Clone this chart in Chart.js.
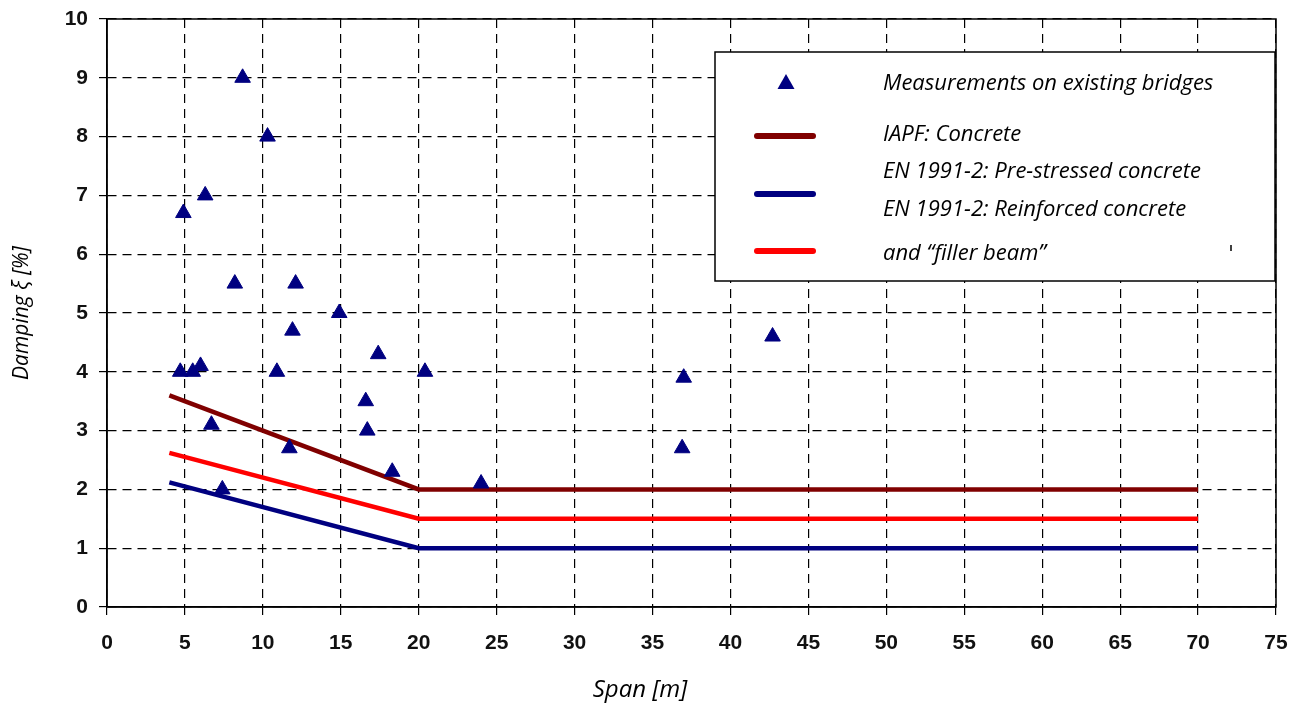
<!DOCTYPE html>
<html>
<head>
<meta charset="utf-8">
<script src="https://cdn.jsdelivr.net/npm/chart.js@4"></script>
<style>
  html, body { margin: 0; padding: 0; background: #fff; }
</style>
</head>
<body>
<canvas id="dampingChart" width="1306" height="706"></canvas>
<script>
// Measured damping on existing bridges (span in m, damping in %)
const spanMeasured = [4.7, 5.5, 6.0, 4.9, 6.3, 8.7, 10.3, 8.2, 12.1, 11.9, 14.9, 10.9,
  17.4, 20.4, 6.7, 11.7, 16.6, 16.7, 18.3, 7.4, 24.0, 37.0, 36.9, 42.7];
const dampingMeasured = [4.0, 4.0, 4.1, 6.7, 7.0, 9.0, 8.0, 5.5, 5.5, 4.7, 5.0, 4.0,
  4.3, 4.0, 3.1, 2.7, 3.5, 3.0, 2.3, 2.0, 2.1, 3.9, 2.7, 4.6];

// Design curves
const curveSpans = [4, 20, 70];
const iapfConcrete = [3.6, 2.0, 2.0];
const enPrestressed = [2.12, 1.0, 1.0];
const enReinforced = [2.62, 1.5, 1.5];

const legendLabels = [
  'Measurements on existing bridges',
  'IAPF: Concrete',
  'EN 1991-2: Pre-stressed concrete',
  'EN 1991-2: Reinforced concrete',
  'and \u201cfiller beam\u201d'
];

const toPoints = (xs, ys) => xs.map((x, i) => ({ x: x, y: ys[i] }));

const NAVY = '#000080';
const MAROON = '#800000';
const RED = '#ff0000';
const textFont = '"Open Sans"';

// frame, legend box and x title
const extras = {
  id: 'extras',
  afterDraw(chart) {
    const ctx = chart.ctx;
    const a = chart.chartArea;
    ctx.save();
    ctx.strokeStyle = '#000';
    ctx.lineWidth = 1.5;
    ctx.strokeRect(a.left, a.top, a.right - a.left, a.bottom - a.top);

    // legend
    ctx.fillStyle = '#fff';
    ctx.fillRect(715, 52, 560, 229);
    ctx.strokeRect(715, 52, 560, 229);

    ctx.fillStyle = NAVY;
    ctx.beginPath();
    ctx.moveTo(786, 74); ctx.lineTo(794.5, 89); ctx.lineTo(777.5, 89); ctx.closePath();
    ctx.fill();

    ctx.lineCap = 'round';
    ctx.lineWidth = 6;
    [[MAROON, 136], [NAVY, 194], [RED, 251]].forEach(([c, y]) => {
      ctx.strokeStyle = c;
      ctx.beginPath(); ctx.moveTo(757, y); ctx.lineTo(813, y); ctx.stroke();
    });

    ctx.fillStyle = '#000';
    ctx.font = 'italic 22px ' + textFont;
    ctx.textAlign = 'left';
    ctx.textBaseline = 'alphabetic';
    [90, 141, 178, 216, 260].forEach((y, i) => ctx.fillText(legendLabels[i], 883, y));

    // stray mark in the original legend
    ctx.strokeStyle = '#000';
    ctx.lineWidth = 1.5;
    ctx.lineCap = 'butt';
    ctx.beginPath(); ctx.moveTo(1231, 245); ctx.lineTo(1231, 251); ctx.stroke();

    // x title
    ctx.textAlign = 'center';
    ctx.font = 'italic 24px ' + textFont;
    ctx.fillText('Span [m]', 640, 697);

    // right edge of the picture is cut
    ctx.fillStyle = '#fff';
    ctx.fillRect(1288, 620, 18, 86);
    ctx.restore();
  }
};

const tickFont = { family: 'Liberation Sans', size: 21, weight: 'bold' };

new Chart(document.getElementById('dampingChart'), {
  type: 'scatter',
  data: {
    datasets: [
      {
        label: legendLabels[0],
        data: toPoints(spanMeasured, dampingMeasured),
        pointStyle: 'triangle',
        pointRadius: 9,
        backgroundColor: NAVY,
        borderColor: NAVY,
        borderWidth: 1
      },
      {
        label: legendLabels[1],
        data: toPoints(curveSpans, iapfConcrete),
        showLine: true,
        borderColor: MAROON,
        borderWidth: 4.5,
        pointRadius: 0
      },
      {
        label: legendLabels[2],
        data: toPoints(curveSpans, enPrestressed),
        showLine: true,
        borderColor: NAVY,
        borderWidth: 4.5,
        pointRadius: 0
      },
      {
        label: legendLabels[3],
        data: toPoints(curveSpans, enReinforced),
        showLine: true,
        borderColor: RED,
        borderWidth: 4.5,
        pointRadius: 0
      }
    ]
  },
  options: {
    responsive: false,
    animation: false,
    layout: { padding: { top: 19, right: 30, left: 0, bottom: 0 } },
    plugins: {
      legend: { display: false },
      tooltip: { enabled: false }
    },
    scales: {
      x: {
        type: 'linear',
        min: 0,
        max: 75,
        afterFit: s => { s.height = 99; },
        ticks: { stepSize: 5, padding: 16, color: '#111', font: tickFont },
        grid: { color: '#000', lineWidth: 1.2, tickLength: 8, tickColor: '#000' },
        border: { display: true, color: '#000', width: 1.5, dash: [9, 6] }
      },
      y: {
        min: 0,
        max: 10,
        afterFit: s => { s.width = 107; s.paddingTop = 0; s.paddingBottom = 0; },
        ticks: { stepSize: 1, padding: 11, color: '#111', font: tickFont },
        grid: { color: '#000', lineWidth: 1.2, tickLength: 8, tickColor: '#000' },
        border: { display: true, color: '#000', width: 1.5, dash: [9, 6] },
        title: {
          display: true,
          text: 'Damping \u03be [%]',
          color: '#000',
          padding: { top: 9, bottom: 0 },
          font: { family: textFont, size: 21, style: 'italic' }
        }
      }
    }
  },
  plugins: [extras]
});
</script>
</body>
</html>
